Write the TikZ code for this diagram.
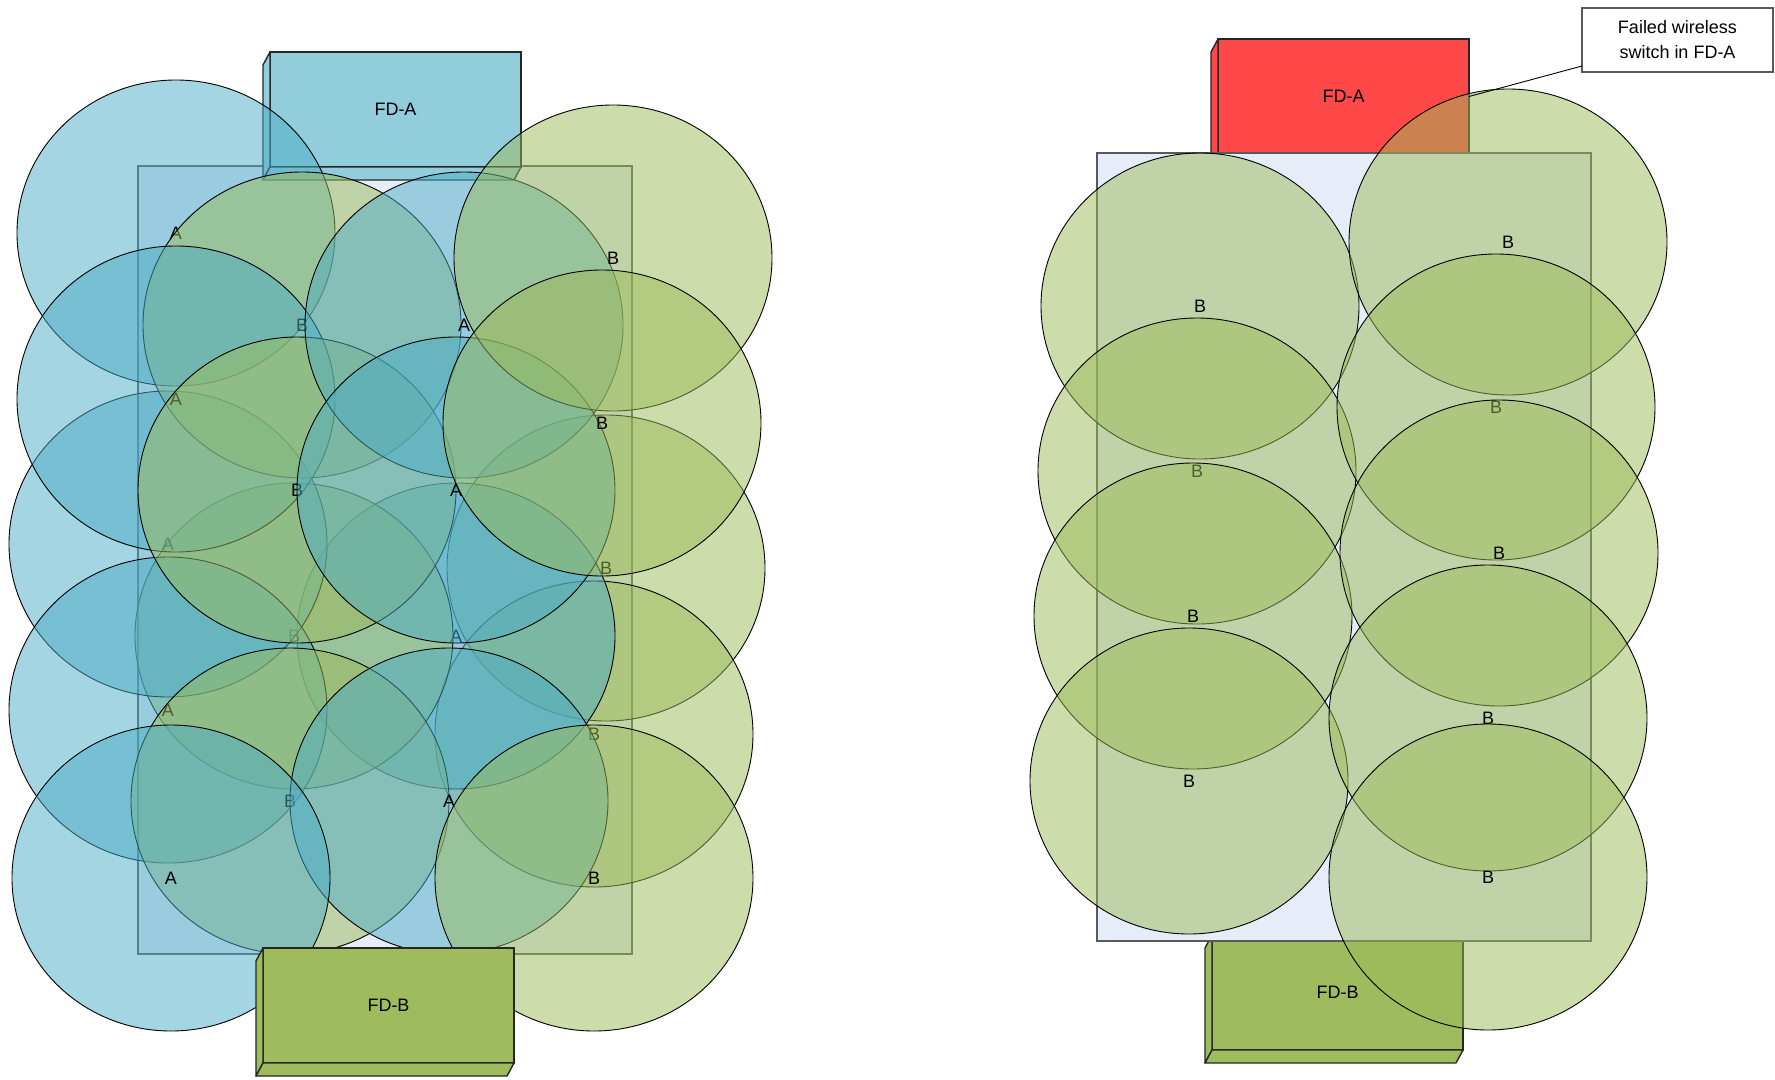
\documentclass[tikz,border=0pt]{standalone}
\usepackage{fontspec}
\setmainfont{Liberation Sans}
\usetikzlibrary{shapes.geometric,calc}
\definecolor{cAqua}{HTML}{4BACC6}
\definecolor{cGreen}{HTML}{9BBB59}
\definecolor{cFDA}{HTML}{92CDDC}
\definecolor{cFDB}{HTML}{9EBC5D}
\definecolor{cRed}{HTML}{FF4848}
\definecolor{cFloor}{HTML}{E7EDF8}
\definecolor{cBorder}{HTML}{595959}
\tikzset{
  lbl/.style={font=\fontsize{18}{25}\selectfont},
  cov/.style={ellipse, draw=black, line width=0.9pt, minimum width=318pt, minimum height=306pt,
    inner sep=0pt, outer sep=0pt, fill opacity=0.5, text opacity=1, lbl},
  covA/.style={cov, fill=cAqua},
  covB/.style={cov, fill=cGreen},
  floorplan/.style={rectangle, draw=cBorder, line width=1.6pt, fill=cFloor,
    minimum width=494pt, minimum height=788pt, inner sep=0pt, outer sep=0pt},
  fdbox/.style={rectangle, draw=black!85, line width=1.4pt, minimum width=251pt,
    minimum height=115pt, inner sep=0pt, outer sep=0pt, lbl},
  fdside/.style={draw=black!85, line width=1.4pt, line join=round},
  note/.style={rectangle, draw=cBorder, line width=1.2pt, fill=white, minimum width=191pt,
    minimum height=64pt, inner sep=0pt, outer sep=0pt, align=center, lbl},
}
\newcommand{\fdfaces}[2]{%
  \filldraw[fdside, fill=#2] (#1.north west) -- ++(-7,13) -- ($(#1.south west)+(-7,13)$) -- (#1.south west) -- cycle;
  \filldraw[fdside, fill=#2] (#1.south west) -- ++(-7,13) -- ($(#1.south east)+(-7,13)$) -- (#1.south east) -- cycle;
}
\begin{document}
\begin{tikzpicture}[x=1pt,y=-1pt]
\useasboundingbox (0,0) rectangle (1775,1079);
\fill[white] (0,0) rectangle (1775,1079);

% ---------------- left panel ----------------
\node[floorplan] (floorL) at (385,560) {};
\node[fdbox, fill=cFDA] (fdaL) at (395.5,109.5) {FD-A};
\fdfaces{fdaL}{cFDA}

\node[covB] (r3) at (606,568) {B};
\node[covB] (r4) at (594,734) {B};
\node[covA] (n3) at (456,636) {A};
\node[covB] (m3) at (294,636) {B};
\node[covA] (l3) at (168,544) {A};
\node[covA] (l4) at (168,710) {A};
\node[covB] (m4) at (290,801) {B};
\node[covA] (l1) at (176,233) {A};
\node[covB] (m1) at (302,325) {B};
\node[covA] (l2) at (176,399) {A};
\node[covB] (m2) at (297,490) {B};
\node[covA] (n1) at (464,325) {A};
\node[covA] (n2) at (456,490) {A};
\node[covB] (r1) at (613,258) {B};
\node[covB] (r2) at (602,423) {B};
\node[covA] (n4) at (449,801) {A};
\node[covB] (r5) at (594,878) {B};
\node[covA] (l5) at (171,878) {A};

\node[fdbox, fill=cFDB] (fdbL) at (388.5,1005.5) {FD-B};
\fdfaces{fdbL}{cFDB}

% ---------------- right panel ----------------
\node[fdbox, fill=cRed] (fdaR) at (1343.5,96.5) {FD-A};
\fdfaces{fdaR}{cRed}
\node[fdbox, fill=cFDB] (fdbR) at (1337.5,992.5) {FD-B};
\fdfaces{fdbR}{cFDB}
\node[floorplan] (floorR) at (1344,547) {};

\node[covB] (c1) at (1200,306) {B};
\node[covB] (s1) at (1508,242) {B};
\node[covB] (c2) at (1197,471) {B};
\node[covB] (s2) at (1496,407) {B};
\node[covB] (c3) at (1193,616) {B};
\node[covB] (s3) at (1499,553) {B};
\node[covB] (c4) at (1189,781) {B};
\node[covB] (s4) at (1488,718) {B};
\node[covB] (s5) at (1488,877) {B};

\node[note] (callout) at (1677.5,40) {Failed wireless\\switch in FD-A};
\draw[black, line width=0.9pt] ($(callout.south west)+(0,-6)$) -- (fdaR.east);
\end{tikzpicture}
\end{document}
